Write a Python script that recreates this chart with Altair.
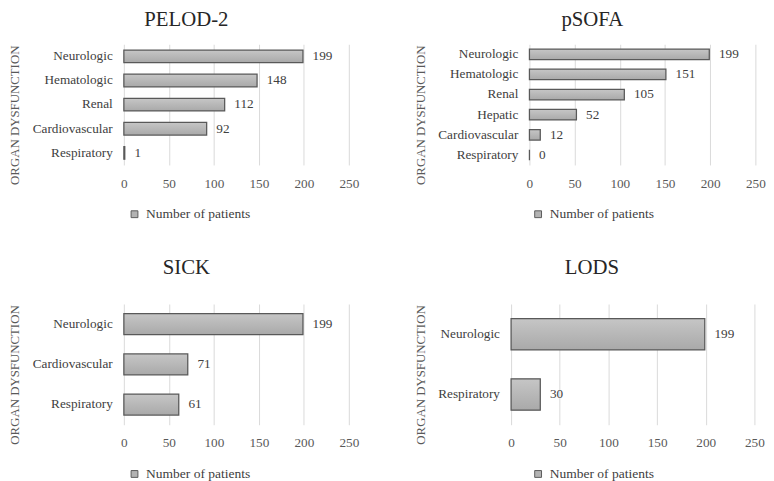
import altair as alt
import pandas as pd

FONT = "Liberation Serif"
SERIES = "Number of patients"

pelod_cats = ["Neurologic", "Hematologic", "Renal", "Cardiovascular", "Respiratory"]
pelod_vals = [199, 148, 112, 92, 1]
psofa_cats = ["Neurologic", "Hematologic", "Renal", "Hepatic", "Cardiovascular", "Respiratory"]
psofa_vals = [199, 151, 105, 52, 12, 0]
sick_cats = ["Neurologic", "Cardiovascular", "Respiratory"]
sick_vals = [199, 71, 61]
lods_cats = ["Neurologic", "Respiratory"]
lods_vals = [199, 30]
x_ticks = [0, 50, 100, 150, 200, 250]

grad = alt.Gradient(
    gradient="linear",
    stops=[alt.GradientStop(color="#c6c6c6", offset=0),
           alt.GradientStop(color="#a9a9a9", offset=1)],
    x1=0, x2=0, y1=0, y2=1,
)


def panel(title, cats, vals, width, legend_x, title_offset):
    df = pd.DataFrame({"organ": cats, "patients": vals, "series": [SERIES] * len(cats)})
    base = alt.Chart(df)
    x = alt.X(
        "patients:Q",
        scale=alt.Scale(domain=[0, 250], nice=False, zero=True),
        axis=alt.Axis(values=x_ticks, title=None, grid=True, gridColor="#d9d9d9", gridWidth=1,
                      domain=False, ticks=False, tickSize=0, labelPadding=12, labelFont=FONT,
                      labelFontSize=13.7, labelColor="#595959", labelFlush=False),
    )
    y = alt.Y(
        "organ:N",
        sort=cats,
        scale=alt.Scale(paddingInner=0.48, paddingOuter=0.24),
        axis=alt.Axis(title="ORGAN DYSFUNCTION", titleFont=FONT, titleFontSize=13.3,
                      titleFontWeight="normal", titleColor="#595959", titlePadding=11,
                      titleY=73,
                      domain=False, ticks=False, tickSize=0, labelPadding=12, labelFont=FONT,
                      labelFontSize=13.7, labelColor="#404040", grid=False),
    )
    legend_bars = base.mark_bar().encode(
        x=x, y=y,
        color=alt.Color(
            "series:N",
            scale=alt.Scale(range=["#b3b3b3"]),
            legend=alt.Legend(title=None, orient="none", legendX=legend_x, legendY=169,
                              symbolType="square", symbolSize=50, symbolStrokeColor="#595959",
                              symbolStrokeWidth=1, labelFont=FONT, labelFontSize=14,
                              labelColor="#404040", symbolOpacity=1, labelOffset=5),
        ),
    )
    bars = base.mark_bar(fill=grad, stroke="#595959", strokeWidth=1.3).encode(x=x, y=y)
    labels = base.mark_text(align="left", baseline="middle", dx=10, font=FONT, fontSize=13.7,
                            color="#404040").encode(x=x, y=y, text="patients:Q")
    return alt.layer(legend_bars, bars, labels).properties(
        width=width, height=125,
        title=alt.TitleParams(title, font=FONT, fontSize=21.5, fontWeight="normal", color="#262626",
                              anchor="middle", frame="bounds", baseline="alphabetic",
                              offset=title_offset, dx=3),
    )


top = alt.hconcat(
    panel("PELOD-2", pelod_cats, pelod_vals, 233, 4, -3),
    panel("pSOFA", psofa_cats, psofa_vals, 234, 2, -3),
    spacing=56,
).resolve_scale(x="independent", y="independent", color="independent").resolve_legend(color="independent")

bottom = alt.hconcat(
    panel("SICK", sick_cats, sick_vals, 233, 4, 10),
    panel("LODS", lods_cats, lods_vals, 252, 21, 10),
    spacing=56,
).resolve_scale(x="independent", y="independent", color="independent").resolve_legend(color="independent")

chart = (
    alt.vconcat(top, bottom, spacing=37)
    .resolve_scale(x="independent", y="independent", color="independent")
    .resolve_legend(color="independent")
    .properties(padding={"top": -7, "left": 0, "right": 0, "bottom": 0}, background="white")
    .configure_view(stroke=None)
)

chart.save("out.html", embed_options={"renderer": "svg", "actions": False})
